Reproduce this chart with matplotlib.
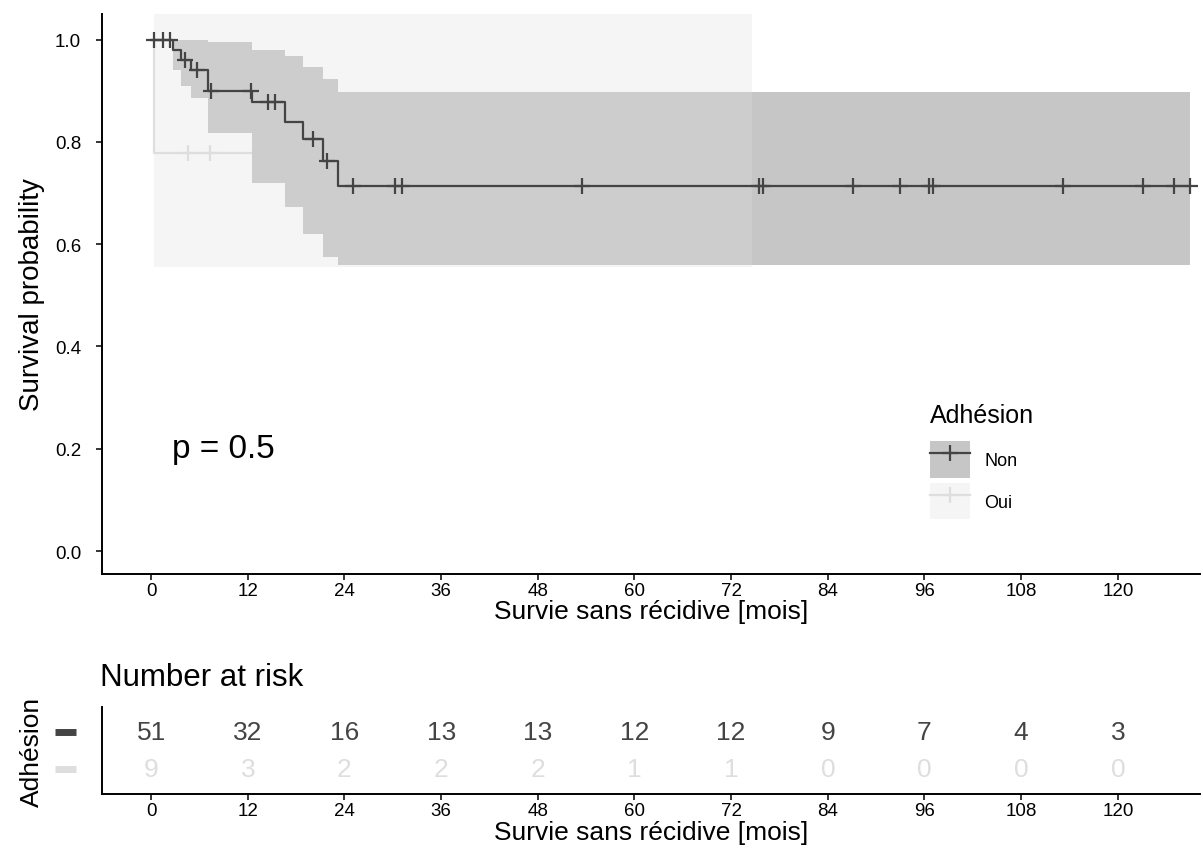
import numpy as np
import matplotlib
matplotlib.use("Agg")
import matplotlib.pyplot as plt
from matplotlib.patches import Patch
from matplotlib.lines import Line2D

plt.rcParams['font.family'] = ['Liberation Sans', 'DejaVu Sans']

# Kaplan-Meier estimates (months, survival)
non_time = [0, 2.7, 3.7, 5.0, 7.0, 12.5, 16.6, 18.9, 21.3, 23.2]
non_surv = [1.0, 0.98, 0.96, 0.94, 0.90, 0.877, 0.838, 0.805, 0.762, 0.713]
non_upper = [1.0, 1.0, 1.0, 1.0, 0.995, 0.98, 0.967, 0.947, 0.922, 0.898]
non_lower = [1.0, 0.94, 0.91, 0.885, 0.818, 0.72, 0.672, 0.62, 0.575, 0.56]
non_end = 129.0
non_censor = [0.3, 1.5, 2.4, 4.2, 5.7, 7.4, 12.4, 14.5, 15.4, 20.1, 21.8, 25.1,
              30.3, 31.1, 53.5, 75.5, 76.0, 87.1, 92.9, 96.5, 97.0, 113.2,
              123.1, 127.0, 129.0]

oui_time = [0, 0.3]
oui_surv = [1.0, 0.778]
oui_upper = [1.0, 1.12]
oui_lower = [1.0, 0.555]
oui_end = 74.6
oui_censor = [4.6, 7.3, 15.0, 52.0, 74.6]

risk_times = [0, 12, 24, 36, 48, 60, 72, 84, 96, 108, 120]
risk_non = [51, 32, 16, 13, 13, 12, 12, 9, 7, 4, 3]
risk_oui = [9, 3, 2, 2, 2, 1, 1, 0, 0, 0, 0]

groups = ['Non', 'Oui']
colors = {'Non': '#444444', 'Oui': '#dedede'}
ALPHA = 0.3
# Non ribbon drawn opaque (same tone as 30 % of its colour on white)
NON_FILL = '#c6c6c6'


def extend(t, v, end):
    # repeat the last value up to the last follow-up time for step drawing
    return np.append(t, end), np.append(v, v[-1])


def value_at(t, v, x):
    idx = np.searchsorted(t, x, side='right') - 1
    return np.asarray(v)[idx]


fig = plt.figure(figsize=(12.03, 8.62), dpi=100)
ax = fig.add_axes([0.0848, 0.3329, 0.9127, 0.6497])
ax_r = fig.add_axes([0.0848, 0.0777, 0.9127, 0.1009])

data = {
    'Non': (non_time, non_surv, non_upper, non_lower, non_end, non_censor),
    'Oui': (oui_time, oui_surv, oui_upper, oui_lower, oui_end, oui_censor),
}
fills = {'Non': (NON_FILL, 1.0), 'Oui': (colors['Oui'], ALPHA)}
zline = {'Oui': 1, 'Non': 5}

for g in groups:
    t, s, up, lo, end, cens = data[g]
    te, se = extend(t, s, end)
    ax.step(te, se, where='post', color=colors[g], lw=1.6, zorder=zline[g])
    cy = value_at(t, s, cens)
    ax.plot(cens, cy, linestyle='none', marker='+', markersize=12,
            markeredgewidth=1.6, color=colors[g], zorder=zline[g] + 0.5)

for i, g in enumerate(groups):
    t, s, up, lo, end, cens = data[g]
    te, upe = extend(t, up, end)
    _, loe = extend(t, lo, end)
    fc, al = fills[g]
    ax.fill_between(te, loe, upe, step='post', color=fc, alpha=al,
                    linewidth=0, zorder=2 + i)

ax.text(2.6, 0.2, 'p = 0.5', fontsize=24, va='center', ha='left')

ticks = np.arange(0, 121, 12)
for a in (ax, ax_r):
    a.set_xlim(-6.1, 130.2)
    a.set_xticks(ticks)
    a.spines['top'].set_visible(False)
    a.spines['right'].set_visible(False)
    a.spines['left'].set_linewidth(1.4)
    a.spines['bottom'].set_linewidth(1.4)
    a.tick_params(axis='both', labelsize=13.5, length=4, width=1.1, pad=1.5)

ax.set_xlabel('Survie sans récidive [mois]', fontsize=19, labelpad=0)
ax_r.set_xlabel('Survie sans récidive [mois]', fontsize=19, labelpad=1)

ax.set_ylim(-0.045, 1.05)
ax.set_yticks(np.arange(0, 1.01, 0.2))
ax.set_yticklabels([f'{v:.1f}' for v in np.arange(0, 1.01, 0.2)])
ax.tick_params(axis='y', pad=11)
ax.set_ylabel('Survival probability', fontsize=20, labelpad=7)

# legend (title drawn separately for exact spacing)
handles = []
for g in groups:
    fc, al = fills[g]
    patch = Patch(facecolor=fc, alpha=al, edgecolor='none')
    line = Line2D([], [], color=colors[g], lw=1.6, marker='+', markersize=12,
                  markeredgewidth=1.6)
    handles.append((patch, line))
ax.legend(handles, groups, loc='upper left', bbox_to_anchor=(0.754, 0.2375),
          frameon=False, fontsize=13, handlelength=2.2, handleheight=2.75,
          labelspacing=0.28, handletextpad=0.8, borderpad=0, borderaxespad=0)
fig.text(930 / 1203, 1 - 416 / 862, 'Adhésion', fontsize=18,
         ha='left', va='center')

# risk table
row_y = {'Non': 2, 'Oui': 1}
for g, counts in (('Non', risk_non), ('Oui', risk_oui)):
    for t, n in zip(risk_times, counts):
        ax_r.text(t, row_y[g], str(n), ha='center', va='center',
                  fontsize=19, color=colors[g])
    ax_r.plot([-0.043, -0.024], [row_y[g], row_y[g]], color=colors[g], lw=5,
              transform=ax_r.get_yaxis_transform(), clip_on=False,
              solid_capstyle='butt')

ax_r.set_ylim(0.32, 2.68)
ax_r.set_yticks([])
ax_r.set_ylabel('Adhésion', fontsize=19, labelpad=42)
fig.text(100 / 1203, 1 - 678 / 862, 'Number at risk', fontsize=22.5,
         ha='left', va='center')

fig.savefig('out.png', dpi=100)
